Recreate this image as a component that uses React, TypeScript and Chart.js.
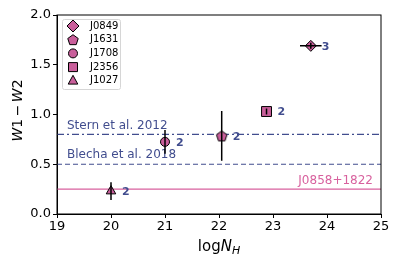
import React, { useEffect, useRef } from "react";
import { Chart, registerables } from "chart.js";

Chart.register(...registerables);

const names = ["J0849", "J1631", "J1708", "J2356", "J1027"];
const logNH = [23.7, 22.05, 21.0, 22.88, 20.0];
const w1w2 = [1.69, 0.785, 0.725, 1.03, 0.23];
const xErr = [0.2, 0, 0, 0, 0];
const yErr = [0.03, 0.25, 0.12, 0.03, 0.09];
const counts = ["3", "2", "2", "2", "2"];
const markerStyles = ["rectRot", "pentagon", "circle", "rect", "triangle"];
const markerRadii = [5.5, 5.5, 4.5, 7, 5.5];
const xTicks = [19, 20, 21, 22, 23, 24, 25];
const yTicks = [0, 0.5, 1.0, 1.5, 2.0];
const refLines = [
  { label: "Stern et al. 2012", y: 0.8, dash: [7, 3, 2, 3] },
  { label: "Blecha et al. 2018", y: 0.5, dash: [5, 3] },
];
const sourceLine = { label: "J0858+1822", y: 0.25 };

const BLUE = "#414d8e";
const PINK = "#d8619e";
const FACE = "#c95f9b";
const FONT = "'DejaVu Sans', sans-serif";

function pentagonCanvas(r: number) {
  const size = Math.ceil(r * 2 + 4);
  const c = document.createElement("canvas");
  c.width = size;
  c.height = size;
  const ctx = c.getContext("2d")!;
  const cx = size / 2, cy = size / 2 + 0.5;
  ctx.beginPath();
  for (let i = 0; i < 5; i++) {
    const a = -Math.PI / 2 + (i * 2 * Math.PI) / 5;
    const px = cx + r * Math.cos(a), py = cy + r * Math.sin(a);
    if (i === 0) ctx.moveTo(px, py); else ctx.lineTo(px, py);
  }
  ctx.closePath();
  ctx.fillStyle = FACE;
  ctx.fill();
  ctx.lineWidth = 1;
  ctx.strokeStyle = "#000";
  ctx.stroke();
  return c;
}

function drawMarker(ctx: CanvasRenderingContext2D, style: string, x: number, y: number, r: number) {
  ctx.save();
  ctx.fillStyle = FACE;
  ctx.strokeStyle = "#000";
  ctx.lineWidth = 1;
  ctx.beginPath();
  if (style === "circle") {
    ctx.arc(x, y, r, 0, Math.PI * 2);
  } else if (style === "rectRot") {
    ctx.moveTo(x, y - r); ctx.lineTo(x + r, y); ctx.lineTo(x, y + r); ctx.lineTo(x - r, y);
  } else if (style === "rect") {
    ctx.rect(x - r, y - r, 2 * r, 2 * r);
  } else if (style === "triangle") {
    ctx.moveTo(x, y - r); ctx.lineTo(x + r * 0.87, y + r * 0.6); ctx.lineTo(x - r * 0.87, y + r * 0.6);
  } else {
    for (let i = 0; i < 5; i++) {
      const a = -Math.PI / 2 + (i * 2 * Math.PI) / 5;
      const px = x + r * Math.cos(a), py = y + 0.5 + r * Math.sin(a);
      if (i === 0) ctx.moveTo(px, py); else ctx.lineTo(px, py);
    }
  }
  ctx.closePath();
  ctx.fill();
  ctx.stroke();
  ctx.restore();
}

type Seg = { t: string; italic?: boolean; sub?: boolean; gap?: number };

function drawRich(ctx: CanvasRenderingContext2D, segs: Seg[], size: number, cx: number, baseline: number) {
  const fontOf = (s: Seg) => `${s.italic ? "italic " : ""}${s.sub ? Math.round(size * 0.72) : size}px ${FONT}`;
  let total = 0;
  segs.forEach((s) => { ctx.font = fontOf(s); total += ctx.measureText(s.t).width + (s.gap || 0); });
  let x = cx - total / 2;
  ctx.textAlign = "left";
  ctx.textBaseline = "alphabetic";
  segs.forEach((s) => {
    ctx.font = fontOf(s);
    ctx.fillText(s.t, x, baseline + (s.sub ? size * 0.22 : 0));
    x += ctx.measureText(s.t).width + (s.gap || 0);
  });
}

const overlay = {
  id: "overlay",
  beforeDatasetsDraw(chart: any) {
    const { ctx, chartArea: a, scales } = chart;
    const ys = scales.y;
    ctx.save();
    ctx.beginPath();
    ctx.rect(a.left, a.top, a.right - a.left, a.bottom - a.top);
    ctx.clip();
    ctx.lineWidth = 1.2;
    refLines.forEach((l) => {
      const py = ys.getPixelForValue(l.y);
      ctx.strokeStyle = BLUE;
      ctx.setLineDash(l.dash);
      ctx.beginPath();
      ctx.moveTo(a.left, py);
      ctx.lineTo(a.right, py);
      ctx.stroke();
    });
    ctx.setLineDash([]);
    const sy = ys.getPixelForValue(sourceLine.y);
    ctx.strokeStyle = PINK;
    ctx.beginPath();
    ctx.moveTo(a.left, sy);
    ctx.lineTo(a.right, sy);
    ctx.stroke();
    ctx.restore();

    ctx.save();
    ctx.font = `12px ${FONT}`;
    ctx.textBaseline = "middle";
    ctx.fillStyle = BLUE;
    ctx.textAlign = "left";
    refLines.forEach((l) => {
      ctx.fillText(l.label, a.left + 10, ys.getPixelForValue(l.y) - 9);
    });
    ctx.fillStyle = PINK;
    ctx.textAlign = "right";
    ctx.fillText(sourceLine.label, a.right - 8, sy - 8);
    ctx.restore();

    // axis titles
    ctx.save();
    ctx.fillStyle = "#000";
    drawRich(ctx, [{ t: "log" }, { t: "N", italic: true }, { t: "H", italic: true, sub: true }], 15, (a.left + a.right) / 2, 251);
    ctx.translate(22, (a.top + a.bottom) / 2 - 4);
    ctx.rotate(-Math.PI / 2);
    drawRich(ctx, [
      { t: "W", italic: true }, { t: "1", gap: 2.5 }, { t: "\u2212", gap: 2.5 }, { t: "W", italic: true }, { t: "2" },
    ], 14, 0, 0);
    ctx.restore();
  },
  afterDatasetsDraw(chart: any) {
    const { ctx, chartArea: a, scales } = chart;
    const xs = scales.x, ys = scales.y;
    ctx.save();
    ctx.strokeStyle = "#000";
    ctx.lineWidth = 1.5;
    for (let i = 0; i < names.length; i++) {
      const px = xs.getPixelForValue(logNH[i]);
      const py = ys.getPixelForValue(w1w2[i]);
      ctx.beginPath();
      if (yErr[i] > 0) {
        ctx.moveTo(px, ys.getPixelForValue(w1w2[i] - yErr[i]));
        ctx.lineTo(px, ys.getPixelForValue(w1w2[i] + yErr[i]));
      }
      if (xErr[i] > 0) {
        ctx.moveTo(xs.getPixelForValue(logNH[i] - xErr[i]), py);
        ctx.lineTo(xs.getPixelForValue(logNH[i] + xErr[i]), py);
      }
      ctx.stroke();
    }
    ctx.font = `bold 11px ${FONT}`;
    ctx.fillStyle = BLUE;
    ctx.textAlign = "left";
    ctx.textBaseline = "middle";
    for (let i = 0; i < names.length; i++) {
      const px = xs.getPixelForValue(logNH[i]);
      const py = ys.getPixelForValue(w1w2[i]);
      ctx.fillText(counts[i], px + 11, py + 1);
    }
    // frame
    ctx.strokeStyle = "#000";
    ctx.lineWidth = 1;
    ctx.strokeRect(a.left, a.top, a.right - a.left, a.bottom - a.top);
    // legend
    const lx = 62, ly = 19, lw = 58, lh = 70;
    ctx.fillStyle = "rgba(255,255,255,0.85)";
    ctx.strokeStyle = "#d6d6d6";
    ctx.lineWidth = 1;
    ctx.beginPath();
    (ctx as any).roundRect ? (ctx as any).roundRect(lx + 0.5, ly + 0.5, lw, lh, 2) : ctx.rect(lx + 0.5, ly + 0.5, lw, lh);
    ctx.fill();
    ctx.stroke();
    ctx.font = `10px ${FONT}`;
    ctx.textAlign = "left";
    ctx.textBaseline = "middle";
    const legR = [6, 5.5, 4.5, 4.5, 5.5];
    for (let i = 0; i < names.length; i++) {
      const yy = 26 + i * 13.7;
      drawMarker(ctx, markerStyles[i], 73, yy, legR[i]);
      ctx.fillStyle = "#000";
      ctx.fillText(names[i], 90, yy);
    }
    ctx.restore();
  },
};

export default function App() {
  const ref = useRef<HTMLCanvasElement | null>(null);
  useEffect(() => {
    if (!ref.current) return;
    const pent = pentagonCanvas(5.5);
    const datasets = names.map((n, i) => ({
      label: n,
      data: [{ x: logNH[i], y: w1w2[i] }],
      pointStyle: markerStyles[i] === "pentagon" ? (pent as any) : markerStyles[i],
      pointRadius: markerRadii[i],
      backgroundColor: FACE,
      borderColor: "#000",
      borderWidth: 1,
    }));
    const chart = new Chart(ref.current, {
      type: "scatter",
      data: { datasets },
      options: {
        animation: false,
        responsive: false,
        devicePixelRatio: 1,
        layout: { padding: { top: 15, right: 18, left: 0, bottom: 0 } },
        plugins: { legend: { display: false }, tooltip: { enabled: false } },
        scales: {
          x: {
            type: "linear",
            min: 19,
            max: 25,
            afterBuildTicks: (s: any) => { s.ticks = xTicks.map((v) => ({ value: v })); },
            afterFit: (s: any) => { s.height = 52; },
            grid: { display: true, drawOnChartArea: false, drawTicks: true, tickLength: 4, color: "#000", tickColor: "#000" },
            border: { display: true, color: "#000" },
            ticks: { color: "#000", font: { family: FONT, size: 13 }, padding: 1, maxRotation: 0, callback: (v: any) => String(v) },
            title: { display: false },
          },
          y: {
            type: "linear",
            min: 0,
            max: 2,
            afterBuildTicks: (s: any) => { s.ticks = yTicks.map((v) => ({ value: v })); },
            afterFit: (s: any) => { s.width = 57; },
            grid: { display: true, drawOnChartArea: false, drawTicks: true, tickLength: 4, color: "#000", tickColor: "#000" },
            border: { display: true, color: "#000" },
            ticks: { color: "#000", font: { family: FONT, size: 13 }, padding: 2, callback: (v: any) => Number(v).toFixed(1) },
            title: { display: false },
          },
        },
      },
      plugins: [overlay],
    });
    return () => chart.destroy();
  }, []);
  return (
    <div style={{ position: "fixed", left: 0, top: 0, width: 399, height: 266, background: "#fff" }}>
      <canvas ref={ref} width={399} height={266} style={{ width: 399, height: 266 }} />
    </div>
  );
}
